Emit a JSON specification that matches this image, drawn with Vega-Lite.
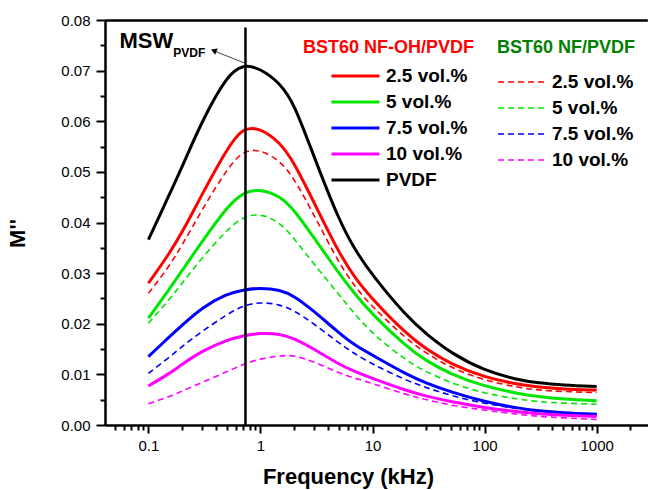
{
"$schema": "https://vega.github.io/schema/vega-lite/v6.json",
"width": 543, "height": 405,
"autosize": "none",
"padding": {"left": 105, "top": 20, "right": 0, "bottom": 65},
"background": "white",
"config": {"view": {"stroke": null}, "font": "Liberation Sans"},
"data": {"values": [{}]},
"datasets": {
"oh": [
{"f":0.1,"v":0.0280,"s":"2.5 vol.%"},{"f":0.15,"v":0.0335,"s":"2.5 vol.%"},{"f":0.2,"v":0.0380,"s":"2.5 vol.%"},{"f":0.3,"v":0.0455,"s":"2.5 vol.%"},{"f":0.5,"v":0.0545,"s":"2.5 vol.%"},{"f":0.7,"v":0.0589,"s":"2.5 vol.%"},{"f":1,"v":0.0586,"s":"2.5 vol.%"},{"f":1.5,"v":0.0558,"s":"2.5 vol.%"},{"f":2,"v":0.0518,"s":"2.5 vol.%"},{"f":3,"v":0.0440,"s":"2.5 vol.%"},{"f":5,"v":0.0340,"s":"2.5 vol.%"},{"f":7,"v":0.0290,"s":"2.5 vol.%"},{"f":10,"v":0.0248,"s":"2.5 vol.%"},{"f":20,"v":0.0180,"s":"2.5 vol.%"},{"f":30,"v":0.0150,"s":"2.5 vol.%"},{"f":50,"v":0.0120,"s":"2.5 vol.%"},{"f":100,"v":0.0094,"s":"2.5 vol.%"},{"f":200,"v":0.0080,"s":"2.5 vol.%"},{"f":300,"v":0.0075,"s":"2.5 vol.%"},{"f":500,"v":0.0071,"s":"2.5 vol.%"},{"f":1000,"v":0.0069,"s":"2.5 vol.%"},
{"f":0.1,"v":0.0211,"s":"5 vol.%"},{"f":0.15,"v":0.0265,"s":"5 vol.%"},{"f":0.2,"v":0.0305,"s":"5 vol.%"},{"f":0.3,"v":0.0362,"s":"5 vol.%"},{"f":0.5,"v":0.0430,"s":"5 vol.%"},{"f":0.7,"v":0.0460,"s":"5 vol.%"},{"f":1,"v":0.0466,"s":"5 vol.%"},{"f":1.5,"v":0.0452,"s":"5 vol.%"},{"f":2,"v":0.0425,"s":"5 vol.%"},{"f":3,"v":0.0370,"s":"5 vol.%"},{"f":5,"v":0.0300,"s":"5 vol.%"},{"f":7,"v":0.0258,"s":"5 vol.%"},{"f":10,"v":0.0218,"s":"5 vol.%"},{"f":20,"v":0.0155,"s":"5 vol.%"},{"f":30,"v":0.0127,"s":"5 vol.%"},{"f":50,"v":0.0100,"s":"5 vol.%"},{"f":100,"v":0.0076,"s":"5 vol.%"},{"f":200,"v":0.0062,"s":"5 vol.%"},{"f":300,"v":0.0056,"s":"5 vol.%"},{"f":500,"v":0.0051,"s":"5 vol.%"},{"f":1000,"v":0.0048,"s":"5 vol.%"},
{"f":0.1,"v":0.0135,"s":"7.5 vol.%"},{"f":0.15,"v":0.0172,"s":"7.5 vol.%"},{"f":0.2,"v":0.0197,"s":"7.5 vol.%"},{"f":0.3,"v":0.0232,"s":"7.5 vol.%"},{"f":0.5,"v":0.0259,"s":"7.5 vol.%"},{"f":0.7,"v":0.0267,"s":"7.5 vol.%"},{"f":1,"v":0.0271,"s":"7.5 vol.%"},{"f":1.5,"v":0.0267,"s":"7.5 vol.%"},{"f":2,"v":0.0255,"s":"7.5 vol.%"},{"f":3,"v":0.0225,"s":"7.5 vol.%"},{"f":5,"v":0.0182,"s":"7.5 vol.%"},{"f":7,"v":0.0157,"s":"7.5 vol.%"},{"f":10,"v":0.0138,"s":"7.5 vol.%"},{"f":20,"v":0.0100,"s":"7.5 vol.%"},{"f":30,"v":0.0083,"s":"7.5 vol.%"},{"f":50,"v":0.0065,"s":"7.5 vol.%"},{"f":100,"v":0.0046,"s":"7.5 vol.%"},{"f":200,"v":0.0033,"s":"7.5 vol.%"},{"f":300,"v":0.0028,"s":"7.5 vol.%"},{"f":500,"v":0.0024,"s":"7.5 vol.%"},{"f":1000,"v":0.0021,"s":"7.5 vol.%"},
{"f":0.1,"v":0.0077,"s":"10 vol.%"},{"f":0.15,"v":0.0100,"s":"10 vol.%"},{"f":0.2,"v":0.0120,"s":"10 vol.%"},{"f":0.3,"v":0.0146,"s":"10 vol.%"},{"f":0.5,"v":0.0168,"s":"10 vol.%"},{"f":0.7,"v":0.0176,"s":"10 vol.%"},{"f":1,"v":0.0182,"s":"10 vol.%"},{"f":1.5,"v":0.0180,"s":"10 vol.%"},{"f":2,"v":0.0171,"s":"10 vol.%"},{"f":3,"v":0.0150,"s":"10 vol.%"},{"f":5,"v":0.0120,"s":"10 vol.%"},{"f":7,"v":0.0105,"s":"10 vol.%"},{"f":10,"v":0.0092,"s":"10 vol.%"},{"f":20,"v":0.0068,"s":"10 vol.%"},{"f":30,"v":0.0057,"s":"10 vol.%"},{"f":50,"v":0.0046,"s":"10 vol.%"},{"f":100,"v":0.0034,"s":"10 vol.%"},{"f":200,"v":0.0026,"s":"10 vol.%"},{"f":300,"v":0.0022,"s":"10 vol.%"},{"f":500,"v":0.0019,"s":"10 vol.%"},{"f":1000,"v":0.0017,"s":"10 vol.%"},
{"f":0.1,"v":0.0366,"s":"PVDF"},{"f":0.15,"v":0.0450,"s":"PVDF"},{"f":0.2,"v":0.0510,"s":"PVDF"},{"f":0.3,"v":0.0600,"s":"PVDF"},{"f":0.5,"v":0.0690,"s":"PVDF"},{"f":0.7,"v":0.0713,"s":"PVDF"},{"f":1,"v":0.0704,"s":"PVDF"},{"f":1.5,"v":0.0675,"s":"PVDF"},{"f":2,"v":0.0635,"s":"PVDF"},{"f":3,"v":0.0530,"s":"PVDF"},{"f":5,"v":0.0405,"s":"PVDF"},{"f":7,"v":0.0345,"s":"PVDF"},{"f":10,"v":0.0295,"s":"PVDF"},{"f":20,"v":0.0215,"s":"PVDF"},{"f":30,"v":0.0180,"s":"PVDF"},{"f":50,"v":0.0142,"s":"PVDF"},{"f":100,"v":0.0107,"s":"PVDF"},{"f":200,"v":0.0089,"s":"PVDF"},{"f":300,"v":0.0083,"s":"PVDF"},{"f":500,"v":0.0079,"s":"PVDF"},{"f":1000,"v":0.0076,"s":"PVDF"}
],
"nf": [
{"f":0.1,"v":0.0260,"s":"2.5 vol.%"},{"f":0.15,"v":0.0310,"s":"2.5 vol.%"},{"f":0.2,"v":0.0355,"s":"2.5 vol.%"},{"f":0.3,"v":0.0425,"s":"2.5 vol.%"},{"f":0.5,"v":0.0505,"s":"2.5 vol.%"},{"f":0.7,"v":0.0543,"s":"2.5 vol.%"},{"f":1,"v":0.0544,"s":"2.5 vol.%"},{"f":1.5,"v":0.0522,"s":"2.5 vol.%"},{"f":2,"v":0.0487,"s":"2.5 vol.%"},{"f":3,"v":0.0415,"s":"2.5 vol.%"},{"f":5,"v":0.0320,"s":"2.5 vol.%"},{"f":7,"v":0.0272,"s":"2.5 vol.%"},{"f":10,"v":0.0233,"s":"2.5 vol.%"},{"f":20,"v":0.0170,"s":"2.5 vol.%"},{"f":30,"v":0.0142,"s":"2.5 vol.%"},{"f":50,"v":0.0113,"s":"2.5 vol.%"},{"f":100,"v":0.0088,"s":"2.5 vol.%"},{"f":200,"v":0.0074,"s":"2.5 vol.%"},{"f":300,"v":0.0069,"s":"2.5 vol.%"},{"f":500,"v":0.0066,"s":"2.5 vol.%"},{"f":1000,"v":0.0064,"s":"2.5 vol.%"},
{"f":0.1,"v":0.0201,"s":"5 vol.%"},{"f":0.15,"v":0.0245,"s":"5 vol.%"},{"f":0.2,"v":0.0280,"s":"5 vol.%"},{"f":0.3,"v":0.0330,"s":"5 vol.%"},{"f":0.5,"v":0.0385,"s":"5 vol.%"},{"f":0.7,"v":0.0412,"s":"5 vol.%"},{"f":1,"v":0.0418,"s":"5 vol.%"},{"f":1.5,"v":0.0400,"s":"5 vol.%"},{"f":2,"v":0.0368,"s":"5 vol.%"},{"f":3,"v":0.0318,"s":"5 vol.%"},{"f":5,"v":0.0258,"s":"5 vol.%"},{"f":7,"v":0.0218,"s":"5 vol.%"},{"f":10,"v":0.0180,"s":"5 vol.%"},{"f":20,"v":0.0127,"s":"5 vol.%"},{"f":30,"v":0.0105,"s":"5 vol.%"},{"f":50,"v":0.0083,"s":"5 vol.%"},{"f":100,"v":0.0062,"s":"5 vol.%"},{"f":200,"v":0.0051,"s":"5 vol.%"},{"f":300,"v":0.0046,"s":"5 vol.%"},{"f":500,"v":0.0043,"s":"5 vol.%"},{"f":1000,"v":0.0041,"s":"5 vol.%"},
{"f":0.1,"v":0.0102,"s":"7.5 vol.%"},{"f":0.15,"v":0.0132,"s":"7.5 vol.%"},{"f":0.2,"v":0.0155,"s":"7.5 vol.%"},{"f":0.3,"v":0.0185,"s":"7.5 vol.%"},{"f":0.5,"v":0.0218,"s":"7.5 vol.%"},{"f":0.7,"v":0.0236,"s":"7.5 vol.%"},{"f":1,"v":0.0243,"s":"7.5 vol.%"},{"f":1.5,"v":0.0238,"s":"7.5 vol.%"},{"f":2,"v":0.0226,"s":"7.5 vol.%"},{"f":3,"v":0.0200,"s":"7.5 vol.%"},{"f":5,"v":0.0162,"s":"7.5 vol.%"},{"f":7,"v":0.0140,"s":"7.5 vol.%"},{"f":10,"v":0.0120,"s":"7.5 vol.%"},{"f":20,"v":0.0088,"s":"7.5 vol.%"},{"f":30,"v":0.0074,"s":"7.5 vol.%"},{"f":50,"v":0.0058,"s":"7.5 vol.%"},{"f":100,"v":0.0042,"s":"7.5 vol.%"},{"f":200,"v":0.0032,"s":"7.5 vol.%"},{"f":300,"v":0.0027,"s":"7.5 vol.%"},{"f":500,"v":0.0024,"s":"7.5 vol.%"},{"f":1000,"v":0.0022,"s":"7.5 vol.%"},
{"f":0.1,"v":0.0042,"s":"10 vol.%"},{"f":0.15,"v":0.0055,"s":"10 vol.%"},{"f":0.2,"v":0.0067,"s":"10 vol.%"},{"f":0.3,"v":0.0084,"s":"10 vol.%"},{"f":0.5,"v":0.0105,"s":"10 vol.%"},{"f":0.7,"v":0.0120,"s":"10 vol.%"},{"f":1,"v":0.0131,"s":"10 vol.%"},{"f":1.5,"v":0.0137,"s":"10 vol.%"},{"f":2,"v":0.0138,"s":"10 vol.%"},{"f":3,"v":0.0125,"s":"10 vol.%"},{"f":5,"v":0.0103,"s":"10 vol.%"},{"f":7,"v":0.0092,"s":"10 vol.%"},{"f":10,"v":0.0082,"s":"10 vol.%"},{"f":20,"v":0.0060,"s":"10 vol.%"},{"f":30,"v":0.0050,"s":"10 vol.%"},{"f":50,"v":0.0039,"s":"10 vol.%"},{"f":100,"v":0.0029,"s":"10 vol.%"},{"f":200,"v":0.0021,"s":"10 vol.%"},{"f":300,"v":0.0017,"s":"10 vol.%"},{"f":500,"v":0.0014,"s":"10 vol.%"},{"f":1000,"v":0.0011,"s":"10 vol.%"}
]
},
"layer": [
{
"data": {"name": "nf"},
"mark": {"type": "line", "strokeWidth": 1.6, "strokeDash": [6, 4], "interpolate": "basis"},
"encoding": {
"x": {"field": "f", "type": "quantitative", "scale": {"type": "log", "domain": [0.041, 2870], "nice": false},
"axis": {"orient": "bottom", "title": null, "labels": false, "domain": false, "grid": false, "tickSize": 5, "tickWidth": 2, "tickColor": "black",
"values": [0.05,0.06,0.07,0.08,0.09,0.2,0.3,0.4,0.5,0.6,0.7,0.8,0.9,2,3,4,5,6,7,8,9,20,30,40,50,60,70,80,90,200,300,400,500,600,700,800,900,2000]}},
"y": {"field": "v", "type": "quantitative", "scale": {"domain": [0, 0.08], "nice": false},
"axis": {"orient": "left", "title": null, "labels": false, "domain": false, "grid": false, "tickSize": 5, "tickWidth": 2, "tickColor": "black",
"values": [0.005,0.015,0.025,0.035,0.045,0.055,0.065,0.075]}},
"color": {"field": "s", "type": "nominal",
"scale": {"domain": ["2.5 vol.%", "5 vol.%", "7.5 vol.%", "10 vol.%"], "range": ["#ff0000", "#00e600", "#0000ff", "#ff00ff"]},
"legend": {"title": "BST60 NF/PVDF", "orient": "none", "legendX": 392, "legendY": 19, "direction": "vertical", "columns": 1, "padding": 0,
"titleColor": "#008000", "titleFont": "Liberation Sans", "titleFontSize": 18, "titleFontWeight": "bold", "titleLimit": 300, "titlePadding": 14,
"symbolType": "stroke", "symbolSize": 2304, "symbolStrokeWidth": 1.6, "symbolDash": [6, 4], "clipHeight": 22, "rowPadding": 4,
"labelFont": "Liberation Sans", "labelFontSize": 19, "labelFontWeight": "bold", "labelColor": "black", "labelOffset": 5, "labelLimit": 300}}
}
},
{
"data": {"name": "oh"},
"mark": {"type": "line", "strokeWidth": 3, "interpolate": "basis"},
"encoding": {
"x": {"field": "f", "type": "quantitative", "scale": {"type": "log", "domain": [0.041, 2870], "nice": false},
"axis": {"orient": "bottom", "title": "Frequency (kHz)", "values": [0.1, 1, 10, 100, 1000], "format": "~g",
"labelOverlap": false, "labelFlush": false, "grid": false, "tickSize": 8,
"domainColor": "black", "domainWidth": 2.5, "tickColor": "black", "tickWidth": 2,
"labelFont": "Liberation Sans", "labelFontSize": 15, "labelColor": "black", "labelPadding": 5,
"titleFont": "Liberation Sans", "titleFontSize": 22, "titleFontWeight": "bold", "titleColor": "black", "titleX": 243, "titleY": 41, "titleAnchor": "middle", "titleBaseline": "top"}},
"y": {"field": "v", "type": "quantitative", "scale": {"domain": [0, 0.08], "nice": false},
"axis": {"orient": "left", "title": "M''", "values": [0, 0.01, 0.02, 0.03, 0.04, 0.05, 0.06, 0.07, 0.08], "format": ".2f",
"labelOverlap": false, "labelFlush": false, "grid": false, "tickSize": 9,
"domainColor": "black", "domainWidth": 2.5, "tickColor": "black", "tickWidth": 2,
"labelFont": "Liberation Sans", "labelFontSize": 15, "labelColor": "black", "labelPadding": 6,
"titleFont": "Liberation Sans", "titleFontSize": 22, "titleFontWeight": "bold", "titleColor": "black", "titleX": -76, "titleY": 213, "titleAngle": -90, "titleAlign": "center", "titleBaseline": "bottom"}},
"color": {"field": "s", "type": "nominal",
"scale": {"domain": ["2.5 vol.%", "5 vol.%", "7.5 vol.%", "10 vol.%", "PVDF"], "range": ["#ff0000", "#00e600", "#0000ff", "#ff00ff", "#000000"]},
"legend": {"title": "BST60 NF-OH/PVDF", "orient": "none", "legendX": 198, "legendY": 19, "direction": "vertical", "columns": 1, "padding": 0,
"titleColor": "#ff0000", "titleFont": "Liberation Sans", "titleFontSize": 18, "titleFontWeight": "bold", "titleLimit": 300, "titlePadding": 8,
"symbolType": "stroke", "symbolSize": 2304, "symbolStrokeWidth": 3, "symbolOffset": 27, "clipHeight": 22, "rowPadding": 4,
"labelFont": "Liberation Sans", "labelFontSize": 19, "labelFontWeight": "bold", "labelColor": "black", "labelOffset": 5, "labelLimit": 300}}
}
},
{
"mark": {"type": "rule", "strokeWidth": 2.5, "color": "black"},
"encoding": {"x": {"datum": 0.735, "type": "quantitative", "axis": null}, "y": {"datum": 0.0785, "type": "quantitative", "axis": null}, "y2": {"datum": 0}}
},
{
"mark": {"type": "rule", "strokeWidth": 2.5, "color": "black"},
"encoding": {"x": {"datum": 0.0412, "type": "quantitative", "axis": null}, "x2": {"datum": 2860}, "y": {"datum": 0.0799, "type": "quantitative", "axis": null}, "y2": {"datum": 0.0799}}
},
{
"mark": {"type": "rule", "strokeWidth": 1, "color": "#444444"},
"encoding": {"x": {"datum": 0.725, "type": "quantitative", "axis": null}, "y": {"datum": 0.07148, "type": "quantitative", "axis": null}, "x2": {"datum": 0.37}, "y2": {"datum": 0.07405}}
},
{
"mark": {"type": "point", "shape": "triangle-left", "filled": true, "color": "black", "size": 45, "angle": 22, "opacity": 1},
"encoding": {"x": {"datum": 0.383, "type": "quantitative", "axis": null}, "y": {"datum": 0.07395, "type": "quantitative", "axis": null}}
},
{
"mark": {"type": "text", "text": "MSW", "font": "Liberation Sans", "fontSize": 22, "fontWeight": "bold", "align": "left", "baseline": "alphabetic", "color": "black"},
"encoding": {"x": {"datum": 0.0552, "type": "quantitative", "axis": null}, "y": {"datum": 0.07445, "type": "quantitative", "axis": null}}
},
{
"mark": {"type": "text", "text": "PVDF", "font": "Liberation Sans", "fontSize": 12, "fontWeight": "bold", "align": "left", "baseline": "alphabetic", "color": "black"},
"encoding": {"x": {"datum": 0.167, "type": "quantitative", "axis": null}, "y": {"datum": 0.07279, "type": "quantitative", "axis": null}}
}
],
"resolve": {"scale": {"color": "independent"}, "axis": {"x": "independent", "y": "independent"}}
}
